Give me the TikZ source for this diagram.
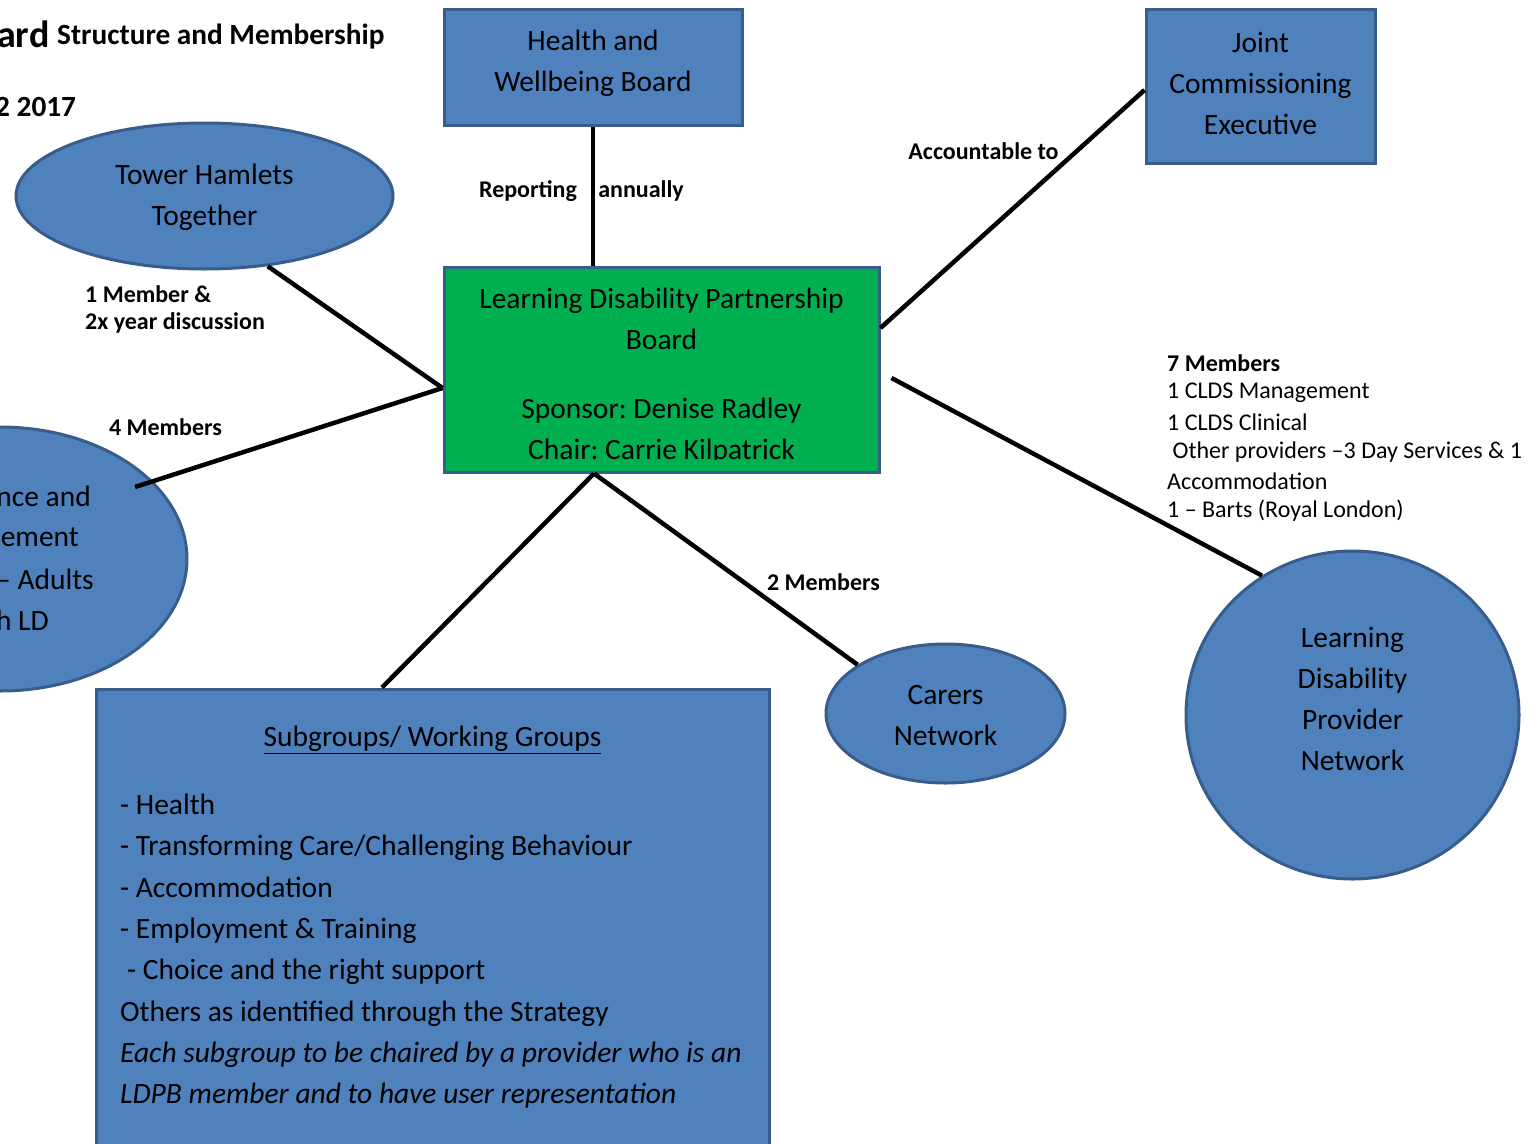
\documentclass[tikz,border=0pt]{standalone}
\usepackage{fontspec}
\setmainfont{Carlito}
\usetikzlibrary{shapes.geometric}
\definecolor{blueF}{HTML}{4F81BD}
\definecolor{blueD}{HTML}{385D8A}
\definecolor{greenF}{HTML}{00B050}
\frenchspacing
\begin{document}
\begin{tikzpicture}[x=1pt,y=-1pt,
  bluebox/.style={rectangle, fill=blueF, draw=blueD, line width=3pt, inner sep=0pt, align=center, font=\fontsize{29.5}{41}\selectfont},
  blueell/.style={ellipse, fill=blueF, draw=blueD, line width=3pt, inner sep=0pt, align=center, font=\fontsize{29.5}{41}\selectfont},
  conn/.style={line width=4.5pt, black},
  lbl/.style={inner sep=0pt, font=\fontsize{24}{28}\bfseries\selectfont},
  note/.style={inner sep=0pt, anchor=west, font=\fontsize{24}{28}\selectfont},
  body/.style={inner sep=0pt, font=\fontsize{29.5}{41}\selectfont}
]
\useasboundingbox (0,0) rectangle (1533,1143);
\clip (0,0) rectangle (1533,1143);
\fill[white] (0,0) rectangle (1533,1143);

% title
\node[inner sep=0pt, anchor=west, font=\fontsize{38}{44}\bfseries\selectfont] (t1) at (-3,34) {ard};
\node[inner sep=0pt, anchor=west, font=\fontsize{29.3}{34}\bfseries\selectfont] (t2) at (57,37) {Structure and Membership};
\node[inner sep=0pt, anchor=west, font=\fontsize{29.3}{34}\bfseries\selectfont] (t3) at (-5,107) {2 2017};

% shapes
\node[bluebox, minimum width=298pt, minimum height=116pt] (hwb) at (593,67) {};
\node[body, align=center] (hwbT) at (593,63) {Health and\\Wellbeing Board};
\node[bluebox, minimum width=229pt, minimum height=154pt] (jce) at (1260.5,86) {};
\node[body, align=center] (jceT) at (1260.5,83) {Joint\\Commissioning\\Executive};
\node[blueell, minimum width=377pt, minimum height=146pt] (th) at (204.5,196) {};
\node[body, align=center] (thT) at (204.5,197) {Tower Hamlets\\Together};
\node[blueell, minimum width=374pt, minimum height=264pt] (gov) at (0,559) {};
\node[blueell, minimum width=239pt, minimum height=139pt] (car) at (945.5,713.5) {};
\node[body, align=center] (carT) at (945.5,716) {Carers\\Network};
\node[blueell, minimum width=333pt, minimum height=328pt] (ldpn) at (1352.5,715) {};
\node[body, align=center] (ldpnT) at (1352.5,699) {Learning\\Disability\\Provider\\Network};
\node[bluebox, minimum width=673pt, minimum height=520pt] (sub) at (432.5,949) {};
\node[rectangle, fill=greenF, draw=blueD, line width=3pt, minimum width=435pt, minimum height=205pt] (ldpb) at (661.5,369.5) {};

% text of the left ellipse (cut by the page edge)
\node[body, anchor=east] (g1) at (91,496) {nce and};
\node[body, anchor=east] (g2) at (79,537) {ement};
\node[body, anchor=east] (g3) at (94,579) {– Adults};
\node[body, anchor=east] (g4) at (49,620) {h LD};

% LDPB text
\begin{scope}
\clip (444,267) rectangle (879,459);
\node[body, align=center] (ldpbA) at (661.5,319) {Learning Disability Partnership\\Board};
\node[body, align=center] (ldpbB) at (661.5,431) {Sponsor: Denise Radley\\Chair: Carrie Kilpatrick};
\end{scope}

% subgroups text
\node[body] (subT) at (432.5,740) {\underline{Subgroups/ Working Groups}};
\node[inner sep=0pt, font=\fontsize{29.5}{41.3}\selectfont, align=left, anchor=north west] (subL) at (120,794) {- Health\\- Transforming Care/Challenging Behaviour\\- Accommodation\\- Employment \& Training\\\hspace*{7pt}- Choice and the right support\\Others as identified through the Strategy\\\itshape Each subgroup to be chaired by a provider who is an\\\itshape LDPB member and to have user representation};

% connectors
\coordinate (pb) at ([xshift=-67.5pt]ldpb.south);
\draw[conn] (hwb.south) -- (hwb.south |- ldpb.north);
\draw[conn] ([yshift=-4pt]jce.west) -- ([yshift=41.5pt]ldpb.east);
\draw[conn] (th.-48) -- ([yshift=-18.5pt]ldpb.west);
\coordinate (gv) at (135,487);
\draw[conn] (gv) -- ([yshift=-18.5pt]ldpb.west);
\draw[conn] ([xshift=11pt,yshift=-8.5pt]ldpb.east) -- (ldpn.123);
\draw[conn] (pb) -- ([xshift=-50.5pt]sub.north);
\draw[conn] (pb) -- (car.151);

% labels
\node[lbl] (rep) at (528,191) {Reporting};
\node[lbl] (ann) at (641,191) {annually};
\node[lbl] (acc) at (983.5,151) {Accountable to};
\node[lbl, anchor=west] (m1a) at (85,294) {1 Member \&};
\node[lbl, anchor=west] (m1b) at (85,323) {2x year discussion};
\node[lbl] (m4) at (165.5,427) {4 Members};
\node[lbl] (m2) at (823.5,582) {2 Members};
\node[lbl, anchor=west] (m7) at (1167,363) {7 Members};
\node[note] (n1) at (1167,393) {1 CLDS Management};
\node[note] (n2) at (1167,422) {1 CLDS Clinical};
\node[note] (n3) at (1167,452) {\ Other providers –3 Day Services \& 1};
\node[note] (n4) at (1167,481) {Accommodation};
\node[note] (n5) at (1167,511) {1 – Barts (Royal London)};
\end{tikzpicture}
\end{document}
